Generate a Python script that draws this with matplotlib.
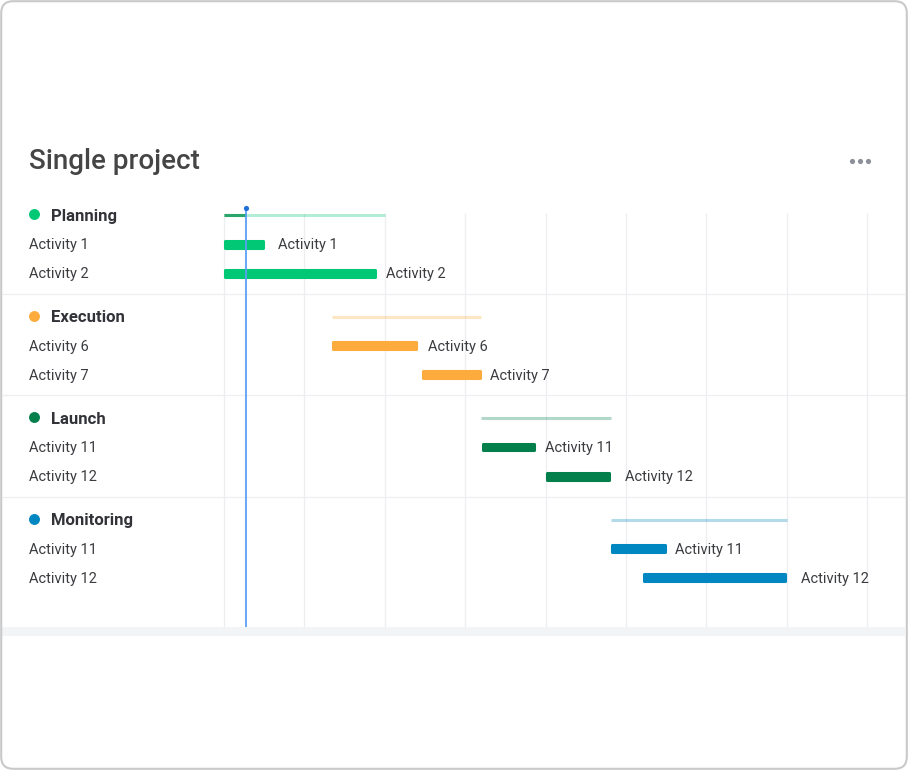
import matplotlib
matplotlib.use("Agg")
import matplotlib.pyplot as plt
from matplotlib.patches import FancyBboxPatch, Rectangle

plt.rcParams['font.family'] = ['Roboto', 'DejaVu Sans']

# ---------------- data ----------------
title = "Single project"
groups = ["Planning", "Execution", "Launch", "Monitoring"]
group_colors = ["#00c875", "#fdab3d", "#037f4c", "#0086c0"]
group_start = [0.0, 1.34, 3.2, 4.81]
group_end = [2.0, 3.2, 4.81, 7.0]
activity_names = [["Activity 1", "Activity 2"],
                  ["Activity 6", "Activity 7"],
                  ["Activity 11", "Activity 12"],
                  ["Activity 11", "Activity 12"]]
activity_start = [[0.0, 0.0], [1.34, 2.46], [3.2, 4.0], [4.81, 5.2]]
activity_end = [[0.5, 1.9], [2.41, 3.2], [3.88, 4.81], [5.5, 7.0]]
today = 0.27
planning_progress_color = "#2aa56b"
grid_positions = [0, 1, 2, 3, 4, 5, 6, 7, 8]

# ---------------- figure ----------------
W, H, DPI = 908, 770, 100
fig = plt.figure(figsize=(W / DPI, H / DPI), dpi=DPI)
fig.patch.set_facecolor("white")
ax = fig.add_axes([0, 0, 1, 1])
ax.set_axis_off()

X0, UNIT = 224.0, 80.4     # pixel of x=0, pixels per unit
Y0, ROW = 215.0, 29.0      # pixel of row 0, pixels per row
ax.set_xlim(-X0 / UNIT, (W - X0) / UNIT)
ax.set_ylim((H - Y0) / ROW, -Y0 / ROW)

def px_x(p):
    return (p - X0) / UNIT

def px_y(p):
    return (p - Y0) / ROW

chart_bottom = px_y(627)
band_bottom = px_y(636)
label_gap_px = [[14, 9], [10, 9], [9, 14], [9, 14]]

# card frame
frame = FancyBboxPatch((0.012, 0.012), W / DPI - 0.024, H / DPI - 0.024,
                       boxstyle="round,pad=0,rounding_size=0.12",
                       transform=fig.dpi_scale_trans, facecolor="none",
                       edgecolor="#c9c9c9", linewidth=1.5, zorder=10)
ax.add_artist(frame)

# bottom band
ax.add_patch(Rectangle((px_x(2), chart_bottom), px_x(905) - px_x(2),
                       band_bottom - chart_bottom, facecolor="#f3f4f6",
                       edgecolor="none", zorder=1))

# vertical grid
ax.vlines(grid_positions, px_y(213), chart_bottom, color="#eceef2",
          linewidth=0.9, zorder=1)

# group separators
for g in range(1, len(groups)):
    y = g * 3.5 - 0.78
    ax.hlines(y, px_x(2), px_x(905), color="#eeeff2", linewidth=0.9, zorder=1)

bar_h = 7.0 / ROW
stroke = 1.5 / UNIT    # half of edge stroke in data units
ty = 1.5 / ROW         # text baseline nudge
for g, name in enumerate(groups):
    base = g * 3.5
    col = group_colors[g]
    # header dot + label
    ax.scatter([px_x(34)], [base - 0.03], s=62, color=col, zorder=4,
               linewidths=0)
    ax.text(px_x(51), base + ty, name, fontsize=12, fontweight="bold",
            color="#323338", va="center", ha="left", zorder=4)
    # summary line
    ax.hlines(base, group_start[g], group_end[g], color=col, alpha=0.3,
              linewidth=2.2, zorder=2)
    if g == 0:
        ax.hlines(base, group_start[g], today, color=planning_progress_color,
                  linewidth=2.2, zorder=3)
    for k in range(2):
        y = base + k + 1
        ax.text(px_x(29), y + ty * 0.7, activity_names[g][k], fontsize=10.5,
                color="#3b3c40", va="center", ha="left", zorder=4)
        s, e = activity_start[g][k], activity_end[g][k]
        ax.barh(y, e - s - 2 * stroke, left=s + stroke, height=bar_h,
                color=col, edgecolor=col, linewidth=2.2, joinstyle="round",
                zorder=3)
        ax.annotate(activity_names[g][k], (e, y + ty * 0.7),
                    xytext=(label_gap_px[g][k] * 0.72, 0),
                    textcoords="offset points", fontsize=10.5,
                    color="#3b3c40", va="center", ha="left", zorder=4)

# today line
ax.vlines(today, px_y(208), chart_bottom, color="#5aa0f5", linewidth=1.3,
          zorder=5)
ax.scatter([today], [px_y(208)], s=14, color="#1f6fd6", zorder=6,
           linewidths=0)

# title and menu
ax.text(px_x(29), px_y(161.5), title, fontsize=20, fontweight="medium",
        color="#454545", va="center", ha="left")
ax.scatter([px_x(852), px_x(860), px_x(868)], [px_y(161)] * 3, s=14,
           color="#8e9099", linewidths=0)

fig.savefig("out.png", dpi=DPI, facecolor="white")
